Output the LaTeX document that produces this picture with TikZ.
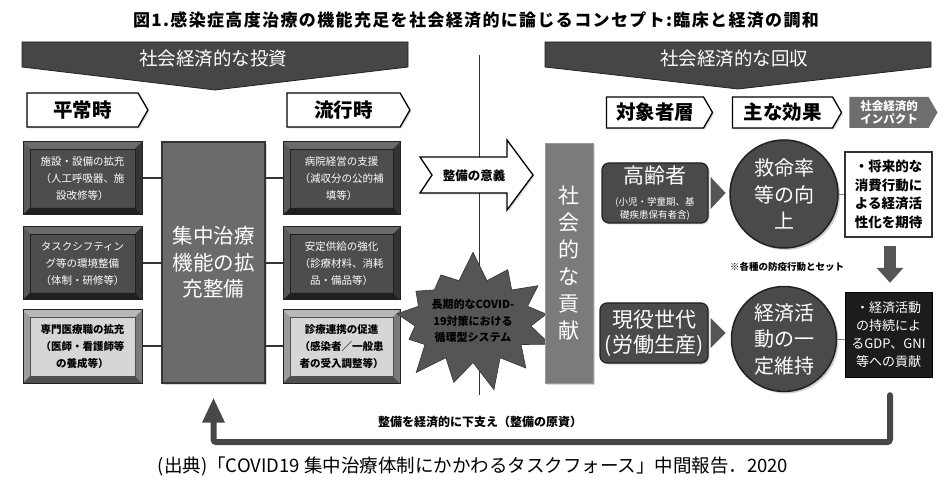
\documentclass[tikz,border=0pt]{standalone}
\usepackage{fontspec}
\setmainfont{Noto Sans CJK JP}
\usetikzlibrary{shapes.symbols,shapes.geometric,arrows.meta,calc,shadows}
\definecolor{bannerc}{HTML}{464646}
\definecolor{dkface}{HTML}{4D4D4D}
\definecolor{dktop}{HTML}{6B6B6B}
\definecolor{dkleft}{HTML}{5A5A5A}
\definecolor{dkbot}{HTML}{1F1F1F}
\definecolor{dkright}{HTML}{333333}
\definecolor{ltface}{HTML}{D6D6D6}
\definecolor{lttop}{HTML}{B8B8B8}
\definecolor{ltleft}{HTML}{9C9C9C}
\definecolor{ltbot}{HTML}{4F4F4F}
\definecolor{ltright}{HTML}{7A7A7A}
\definecolor{coref}{HTML}{6B6B6B}
\definecolor{barf}{HTML}{7B7B7B}
\definecolor{roundf}{HTML}{4A4A4A}
\definecolor{edgec}{HTML}{222222}
\definecolor{midg}{HTML}{555555}
\definecolor{impf}{HTML}{6E6E6E}
\definecolor{blackbox}{HTML}{1C1C1C}
\definecolor{fbc}{HTML}{474747}
\newcommand\fs[2]{\fontsize{#1}{#2}\selectfont}
\newcommand\bevelfill[5]{%
 \fill[#2] (path picture bounding box.north west) -- (path picture bounding box.north east) -- ([xshift=-#1,yshift=-#1]path picture bounding box.north east) -- ([xshift=#1,yshift=-#1]path picture bounding box.north west) -- cycle;
 \fill[#3] (path picture bounding box.north west) -- ([xshift=#1,yshift=-#1]path picture bounding box.north west) -- ([xshift=#1,yshift=#1]path picture bounding box.south west) -- (path picture bounding box.south west) -- cycle;
 \fill[#4] (path picture bounding box.south west) -- ([xshift=#1,yshift=#1]path picture bounding box.south west) -- ([xshift=-#1,yshift=#1]path picture bounding box.south east) -- (path picture bounding box.south east) -- cycle;
 \fill[#5] (path picture bounding box.south east) -- ([xshift=-#1,yshift=#1]path picture bounding box.south east) -- ([xshift=-#1,yshift=-#1]path picture bounding box.north east) -- (path picture bounding box.north east) -- cycle;
 \draw[#4, line width=0.6pt] ([xshift=#1,yshift=-#1]path picture bounding box.north west) rectangle ([xshift=-#1,yshift=#1]path picture bounding box.south east);
}
\tikzset{
 bevbase/.style={rectangle, inner sep=0pt, align=center, draw=edgec, line width=1pt, font=\fs{10.5}{17}},
 bevdark/.style={bevbase, fill=dkface, text=white, path picture={\bevelfill{7pt}{dktop}{dkleft}{dkbot}{dkright}}},
 bevlight/.style={bevbase, fill=ltface, text=black, font=\fs{10.5}{17}\bfseries, path picture={\bevelfill{7pt}{lttop}{ltleft}{ltbot}{ltright}}},
 chev/.style={signal, signal to=east, signal pointer angle=120, draw=black, line width=1.3pt, fill=white, inner sep=0pt, font=\fs{19.5}{22}\bfseries, drop shadow={opacity=0.3, shadow xshift=1.5pt, shadow yshift=-1.5pt}},
 link/.style={draw=dkright, line width=2pt},
 thinlink/.style={draw=gray, line width=0.8pt},
 banner/.style={fill=bannerc, draw=edgec, line width=0.8pt},
 bannertext/.style={text=white, font=\fs{18.5}{22}},
 roundbox/.style={rectangle, rounded corners=7pt, fill=roundf, draw=edgec, line width=1.2pt, text=white, align=center, inner sep=0pt, font=\fs{21}{25}, drop shadow={opacity=0.3, shadow xshift=1.5pt, shadow yshift=-1.5pt}},
 effect/.style={circle, fill=roundf, draw=edgec, line width=1.5pt, text=white, align=center, inner sep=0pt, font=\fs{20}{26.5}, drop shadow={opacity=0.35, shadow xshift=2pt, shadow yshift=-2pt}},
 tri/.style={fill=midg},
 fb/.style={draw=fbc, line width=6pt, line cap=round, -{Triangle[width=21pt,length=25pt]}},
}
\begin{document}
\begin{tikzpicture}[x=1pt,y=-1pt]
\useasboundingbox[fill=white] (0,0) rectangle (946,481);
% title
\node[font=\fs{17}{20}\bfseries\addfontfeatures{LetterSpace=8}] (title) at (476,20) {図1.感染症高度治療の機能充足を社会経済的に論じるコンセプト:臨床と経済の調和};
% divider
\coordinate (divtop) at (479,55);
\coordinate (divbot) at (479,395);
\draw[line width=0.8pt, black!80] (divtop) -- (divbot);
% banners
\draw[banner] (22,42) -- (408,42) -- (408,67) -- (215,90) -- (22,67) -- cycle;
\node[bannertext] (invest) at (213,59) {社会経済的な投資};
\draw[banner] (545,42) -- (931,42) -- (931,67) -- (738,89) -- (545,67) -- cycle;
\node[bannertext] (recover) at (734,59) {社会経済的な回収};
% chevrons
\node[chev, minimum width=121pt, minimum height=34pt] (heijo) at (82.5,110) {平常時};
\node[chev, minimum width=123pt, minimum height=34pt] (ryuko) at (343.5,110) {流行時};
\node[chev, minimum width=106pt, minimum height=31pt] (target) at (655,112.5) {対象者層};
\node[chev, minimum width=109pt, minimum height=31pt] (effects) at (782.5,112.5) {主な効果};
\node[signal, signal to=east, signal pointer angle=120, fill=impf, draw=none, inner sep=0pt, minimum width=88pt, minimum height=31pt, text=white, align=center, font=\fs{11.5}{13.5}\bfseries] (impact) at (889,112.5) {社会経済的\\インパクト};
% core
\node[rectangle, fill=coref, draw=dkright, line width=1.2pt, minimum width=103pt, minimum height=241pt, text=white, align=center, font=\fs{20.5}{26.5}, drop shadow={opacity=0.3, shadow xshift=2pt, shadow yshift=-2pt}] (core) at (213.5,262.5) {集中治療\\機能の拡\\充整備};
% left boxes
\node[bevdark, minimum width=119pt, minimum height=73pt] (l1) at (82.5,178.5) {施設・設備の拡充\\（人工呼吸器、施\\設改修等）};
\node[bevdark, minimum width=119pt, minimum height=73pt] (l2) at (82.5,263.5) {タスクシフティン\\グ等の環境整備\\（体制・研修等）};
\node[bevlight, minimum width=119pt, minimum height=73pt] (l3) at (82.5,346.5) {専門医療職の拡充\\（医師・看護師等\\の養成等）};
% right boxes
\node[bevdark, minimum width=117pt, minimum height=73pt] (r1) at (341.5,178.5) {病院経営の支援\\（減収分の公的補\\填等）};
\node[bevdark, minimum width=117pt, minimum height=73pt] (r2) at (341.5,263.5) {安定供給の強化\\（診療材料、消耗\\品・備品等）};
\node[bevlight, minimum width=117pt, minimum height=73pt] (r3) at (341.5,346.5) {診療連携の促進\\（感染者／一般患\\者の受入調整等）};
% links
\foreach \b in {l1,l2,l3} \draw[link] (\b.east) -- (\b.east -| core.west);
\foreach \b in {r1,r2,r3} \draw[link] (\b.west) -- (\b.west -| core.east);
% significance arrow
\draw[fill=white, draw=black, line width=1.3pt, drop shadow={opacity=0.3, shadow xshift=1.5pt, shadow yshift=-1.5pt}] (420,157) -- (507,157) -- (507,140) -- (533,175) -- (507,210) -- (507,193) -- (420,193) -- (432,175) -- cycle;
\node[font=\fs{12.5}{15}\bfseries] (igi) at (474,176) {整備の意義};
% starburst
\node[starburst, starburst points=13, starburst point height=30pt, random starburst=7, fill=midg, draw=dkright, line width=0.6pt, minimum width=133pt, minimum height=143pt, inner sep=0pt, align=center, font=\fs{11}{16.5}\bfseries] (burst) at (473,321) {長期的なCOVID-\\19対策における\\循環型システム};
% contribution bar
\node[rectangle, fill=barf, draw=black!40, line width=0.6pt, minimum width=48pt, minimum height=240pt, text=white, align=center, inner sep=0pt, font=\fs{21}{27}, drop shadow={opacity=0.3, shadow xshift=2pt, shadow yshift=-2pt}] (contrib) at (569,263) {社\\会\\的\\な\\貢\\献};
% target groups
\node[roundbox, minimum width=106pt, minimum height=60pt, font=\fs{9.5}{12.5}] (elder) at (655,193) {{\fs{21}{25}高齢者}\\[10pt](小児・学童期、基\\礎疾患保有者含)};
\node[roundbox, minimum width=108pt, minimum height=60pt] (worker) at (654,333) {現役世代\\(労働生産)};
\fill[tri] ($(elder.east)+(2,-16)$) -- ($(elder.east)+(17,0)$) -- ($(elder.east)+(2,16)$) -- cycle;
\fill[tri] ($(worker.east)+(2,-15)$) -- ($(worker.east)+(17,0)$) -- ($(worker.east)+(2,15)$) -- cycle;
% effects
\node[effect, minimum size=108pt] (save) at (784,194) {救命率\\等の向\\上};
\node[effect, minimum size=105pt] (econ) at (784,339) {経済活\\動の一\\定維持};
\node[font=\fs{9.5}{11}\bfseries] (note) at (787,267) {※各種の防疫行動とセット};
% impacts
\node[rectangle, fill=white, draw=dkright, line width=1.3pt, minimum width=87pt, minimum height=85pt, inner sep=0pt, align=center, font=\fs{13.5}{18.5}\bfseries] (future) at (888.5,194.5) {・将来的な\\消費行動に\\よる経済活\\性化を期待};
\node[rectangle, fill=blackbox, draw=black, minimum width=87pt, minimum height=85pt, inner sep=0pt, align=center, text=white, font=\fs{13}{18}] (gdp) at (888.5,334.5) {・経済活動\\の持続によ\\るGDP、GNI\\等への貢献};
\draw[thinlink] (save.east) -- (save.east -| future.west);
\draw[thinlink] (econ.east) -- (econ.east -| gdp.west);
\draw[draw=midg, line width=12pt, -{Triangle[width=26pt,length=15pt]}] ($(future.south)+(1.5,8)$) -- ($(gdp.north)+(1.5,-9)$);
% feedback
\draw[fb, rounded corners=3pt] ($(gdp.south)+(1.5,18)$) -- ++(0,47) -| ($(core.south)+(0,14)$);
\node[font=\fs{12}{14}\bfseries] (fbtext) at (480,422) {整備を経済的に下支え（整備の原資）};
% source
\node[font=\fs{18.5}{21}] (src) at (473,466) {(出典)「COVID19 集中治療体制にかかわるタスクフォース」中間報告．2020};
\end{tikzpicture}
\end{document}
